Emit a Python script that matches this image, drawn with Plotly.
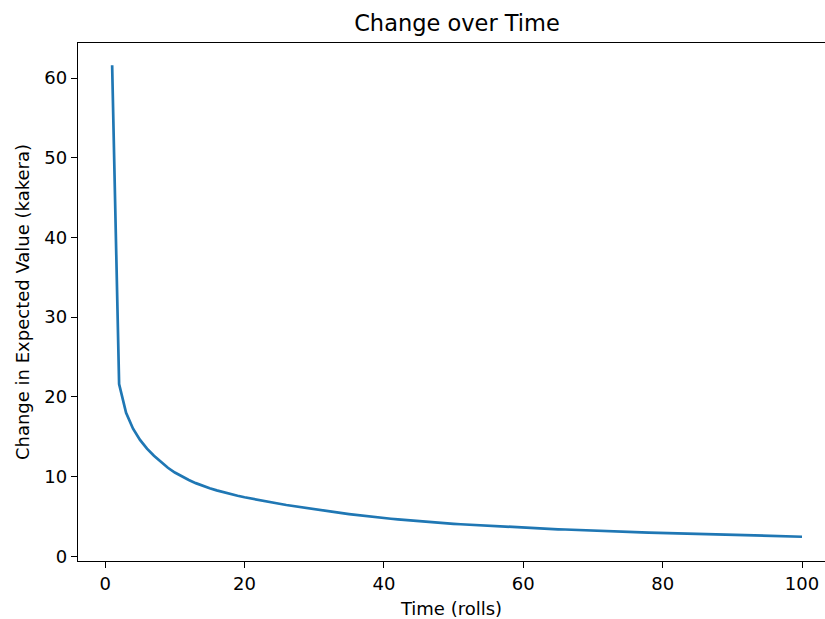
import plotly.graph_objects as go

# Rolls 1..100 and the change in expected value after each roll
rolls = list(range(1, 101))
change_in_ev = [
    61.6, 21.6, 18.0, 16.0, 14.6, 13.5, 12.6, 11.8, 11.1, 10.5,
    10.0, 9.56, 9.17, 8.83, 8.53, 8.26, 8.02, 7.80, 7.59, 7.40,
    7.22, 7.05, 6.89, 6.73, 6.58, 6.43, 6.29, 6.15, 6.01, 5.88,
    5.75, 5.63, 5.51, 5.40, 5.29, 5.18, 5.08, 4.98, 4.88, 4.79,
    4.70, 4.62, 4.54, 4.46, 4.39, 4.32, 4.25, 4.19, 4.13, 4.07,
    4.01, 3.96, 3.91, 3.85, 3.80, 3.75, 3.71, 3.66, 3.62, 3.58,
    3.54, 3.50, 3.46, 3.42, 3.38, 3.35, 3.31, 3.28, 3.24, 3.21,
    3.18, 3.15, 3.12, 3.09, 3.06, 3.03, 3.00, 2.97, 2.95, 2.92,
    2.89, 2.87, 2.84, 2.82, 2.79, 2.77, 2.74, 2.72, 2.69, 2.67,
    2.64, 2.62, 2.59, 2.57, 2.55, 2.52, 2.50, 2.48, 2.46, 2.44,
]

x_ticks = [0, 20, 40, 60, 80, 100]
y_ticks = [0, 10, 20, 30, 40, 50, 60]

FONT = "DejaVu Sans"
TEXT_SIZE = 18

fig = go.Figure(
    go.Scatter(
        x=rolls,
        y=change_in_ev,
        mode="lines",
        line=dict(color="#1f77b4", width=2.7),
        hoverinfo="skip",
    )
)

fig.update_layout(
    width=825,
    height=619,
    margin=dict(l=78, r=0, t=43, b=58),
    paper_bgcolor="white",
    plot_bgcolor="white",
    showlegend=False,
    font=dict(family=FONT, size=TEXT_SIZE, color="black"),
    title=dict(
        text="Change over Time",
        x=457 / 825,
        xanchor="center",
        y=1 - 23 / 619,
        yanchor="middle",
        font=dict(family=FONT, size=22.5, color="black"),
    ),
)

fig.update_xaxes(
    range=[-3.9, 103.3],
    tickvals=x_ticks,
    ticktext=[str(v) for v in x_ticks],
    ticks="outside",
    ticklen=6,
    tickwidth=1.3,
    tickcolor="black",
    showline=True,
    linecolor="black",
    linewidth=1.3,
    mirror=True,
    showgrid=False,
    zeroline=False,
    tickfont=dict(family=FONT, size=TEXT_SIZE, color="black"),
    title=dict(text="Time (rolls)", font=dict(family=FONT, size=TEXT_SIZE, color="black"), standoff=10),
)

fig.update_yaxes(
    range=[-0.6, 64.4],
    tickvals=y_ticks,
    ticktext=[str(v) for v in y_ticks],
    ticks="outside",
    ticklen=6,
    tickwidth=1.3,
    tickcolor="black",
    showline=True,
    linecolor="black",
    linewidth=1.3,
    mirror=False,
    showgrid=False,
    zeroline=False,
    tickfont=dict(family=FONT, size=TEXT_SIZE, color="black"),
    title=dict(text="Change in Expected Value (kakera)", font=dict(family=FONT, size=TEXT_SIZE, color="black"), standoff=10),
)

fig.write_html("out.html")
